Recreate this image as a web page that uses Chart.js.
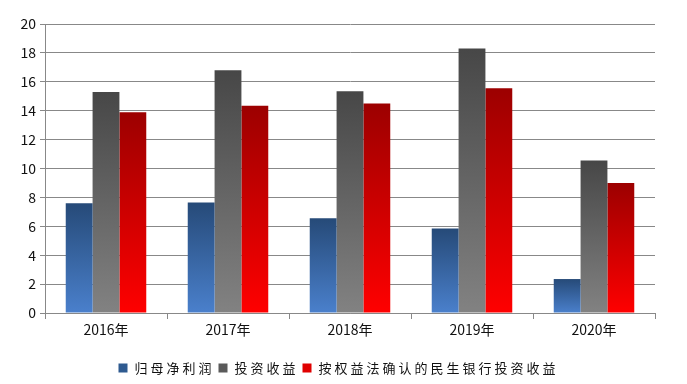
<!DOCTYPE html>
<html><head><meta charset="utf-8">
<script src="https://cdn.jsdelivr.net/npm/chart.js@4/dist/chart.umd.min.js"></script>
<style>html,body{margin:0;padding:0;background:#fff}#wrap{width:687px;height:384px}</style>
</head><body><div id="wrap"><canvas id="c" width="687" height="384"></canvas></div>
<script>
const categories = ['2016年','2017年','2018年','2019年','2020年'];
const netProfit = [7.6, 7.65, 6.55, 5.85, 2.35];
const investIncome = [15.3, 16.8, 15.35, 18.3, 10.55];
const equityIncome = [13.9, 14.35, 14.5, 15.55, 9.0];
const seriesNames = ['归母净利润','投资收益','按权益法确认的民生银行投资收益'];
const yTicks = [0,2,4,6,8,10,12,14,16,18,20];

const gradStops = [['#264a78','#4a80cc'],['#474747','#828282'],['#9c0000','#ff0000']];
function grad(i){
  return function(ctx){
    const ch = ctx.chart; const a = ch.chartArea; const ys = ch.scales && ch.scales.y;
    if(!a || !ys || ctx.type !== 'data') return gradStops[i][1];
    const top = ys.getPixelForValue(ctx.raw), bottom = ys.getPixelForValue(0);
    const g = ch.ctx.createLinearGradient(0, top, 0, bottom);
    g.addColorStop(0, gradStops[i][0]); g.addColorStop(1, gradStops[i][1]);
    return g;
  };
}
const legendColors = ['#2e5a90','#5a5a5a','#e00000'];
const FONT = '"Noto Sans CJK SC", "Noto Sans", sans-serif';

const legendPlugin = {
  id:'customLegend',
  afterDraw(chart){
    const ctx = chart.ctx; ctx.save();
    ctx.font = '13px ' + FONT; ctx.letterSpacing = '3px';
    ctx.textBaseline = 'middle'; ctx.fillStyle = '#111';
    const box = 9, gapBox = 7, gapItem = 4;
    const widths = seriesNames.map(n => ctx.measureText(n).width);
    let total = 0; widths.forEach(w => total += box + gapBox + w + gapItem); total -= gapItem;
    let x = (chart.width - total)/2 - 5; const y = 368;
    seriesNames.forEach((n,i)=>{
      ctx.fillStyle = legendColors[i]; ctx.fillRect(x, y-box/2, box, box);
      x += box + gapBox; ctx.fillStyle = '#111'; ctx.fillText(n, x, y);
      x += widths[i] + gapItem;
    });
    ctx.restore();
  }
};

new Chart(document.getElementById('c'), {
  type:'bar',
  data:{labels:categories, datasets:[
    {label:seriesNames[0], data:netProfit, backgroundColor:grad(0)},
    {label:seriesNames[1], data:investIncome, backgroundColor:grad(1)},
    {label:seriesNames[2], data:equityIncome, backgroundColor:grad(2)}
  ]},
  options:{
    responsive:false, animation:false, devicePixelRatio:1,
    layout:{padding:{left:0,right:32,top:24,bottom:0}},
    datasets:{bar:{categoryPercentage:0.66, barPercentage:1.0}},
    plugins:{legend:{display:false}, tooltip:{enabled:false}},
    scales:{
      x:{
        grid:{display:true, drawOnChartArea:false, drawTicks:true, tickLength:6, color:'#888', offset:true},
        border:{color:'#888'},
        ticks:{color:'#111', font:{size:14, family:FONT}, padding:2},
        afterFit(s){ s.height = 71; }
      },
      y:{
        min:0, max:20,
        afterBuildTicks(s){ s.ticks = yTicks.map(v=>({value:v})); },
        grid:{color:'#888', tickLength:5},
        border:{color:'#888'},
        ticks:{color:'#111', font:{size:14, family:FONT}, padding:4},
        afterFit(s){ s.width = 45; }
      }
    }
  },
  plugins:[legendPlugin]
});
</script></body></html>
